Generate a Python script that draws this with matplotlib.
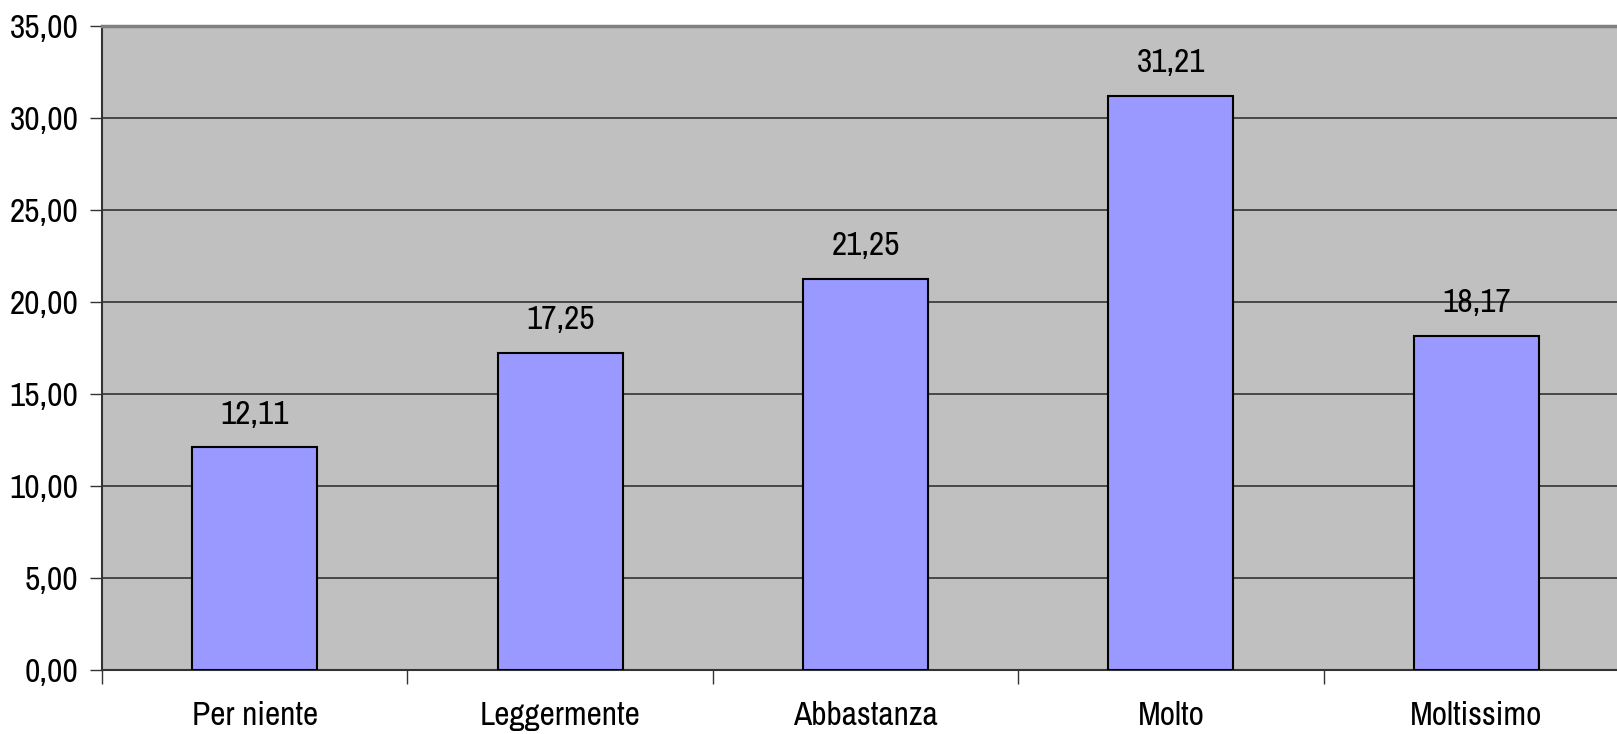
import matplotlib
matplotlib.use("Agg")
import matplotlib.pyplot as plt
import numpy as np

categories = ["Per niente", "Leggermente", "Abbastanza", "Molto", "Moltissimo"]
values = [12.11, 17.25, 21.25, 31.21, 18.17]
yticks = [0, 5, 10, 15, 20, 25, 30, 35]


def comma(v):
    return ("%.2f" % v).replace(".", ",")


plt.rcParams["font.family"] = ["Archivo Narrow", "Liberation Sans", "DejaVu Sans"]
fs = 24

fig = plt.figure(figsize=(16.17, 7.34), dpi=100)
ax = fig.add_axes([0.0631, 0.0872, 0.9443, 0.8774])
ax.set_facecolor("#C0C0C0")

x = np.arange(len(categories))
bars = ax.bar(x, values, width=0.41, color="#9999FF", edgecolor="black",
              linewidth=1.5, zorder=3)

for xi, v in zip(x, values):
    ax.annotate(comma(v), xy=(xi, v), xytext=(0, 17), textcoords="offset points",
                ha="center", va="baseline", fontsize=fs, color="black")

ax.set_xlim(-0.5, len(categories) - 0.5)
ax.set_ylim(0, 35)
ax.set_yticks(yticks)
ax.set_yticklabels([comma(t) for t in yticks])
ax.yaxis.grid(True, color="#333333", linewidth=1.2, zorder=0)
ax.set_axisbelow(True)

# category boundaries as ticks, labels in the middle
ax.set_xticks(np.arange(len(categories) + 1) - 0.5)
ax.set_xticklabels([])
ax.set_xticks(x, minor=True)
ax.set_xticklabels(categories, minor=True)
ax.tick_params(axis="x", which="major", length=10, width=1, color="#333333",
               direction="out")
ax.tick_params(axis="x", which="minor", length=0, pad=22, labelsize=fs)
ax.tick_params(axis="y", length=9, width=1, color="#333333", direction="out",
               pad=8, labelsize=fs)

for side in ["left", "bottom"]:
    ax.spines[side].set_color("#333333")
    ax.spines[side].set_linewidth(1.5)
ax.spines["top"].set_color("#808080")
ax.spines["top"].set_linewidth(2.5)
ax.spines["right"].set_visible(False)

fig.savefig("out.png", dpi=100, facecolor="white")
